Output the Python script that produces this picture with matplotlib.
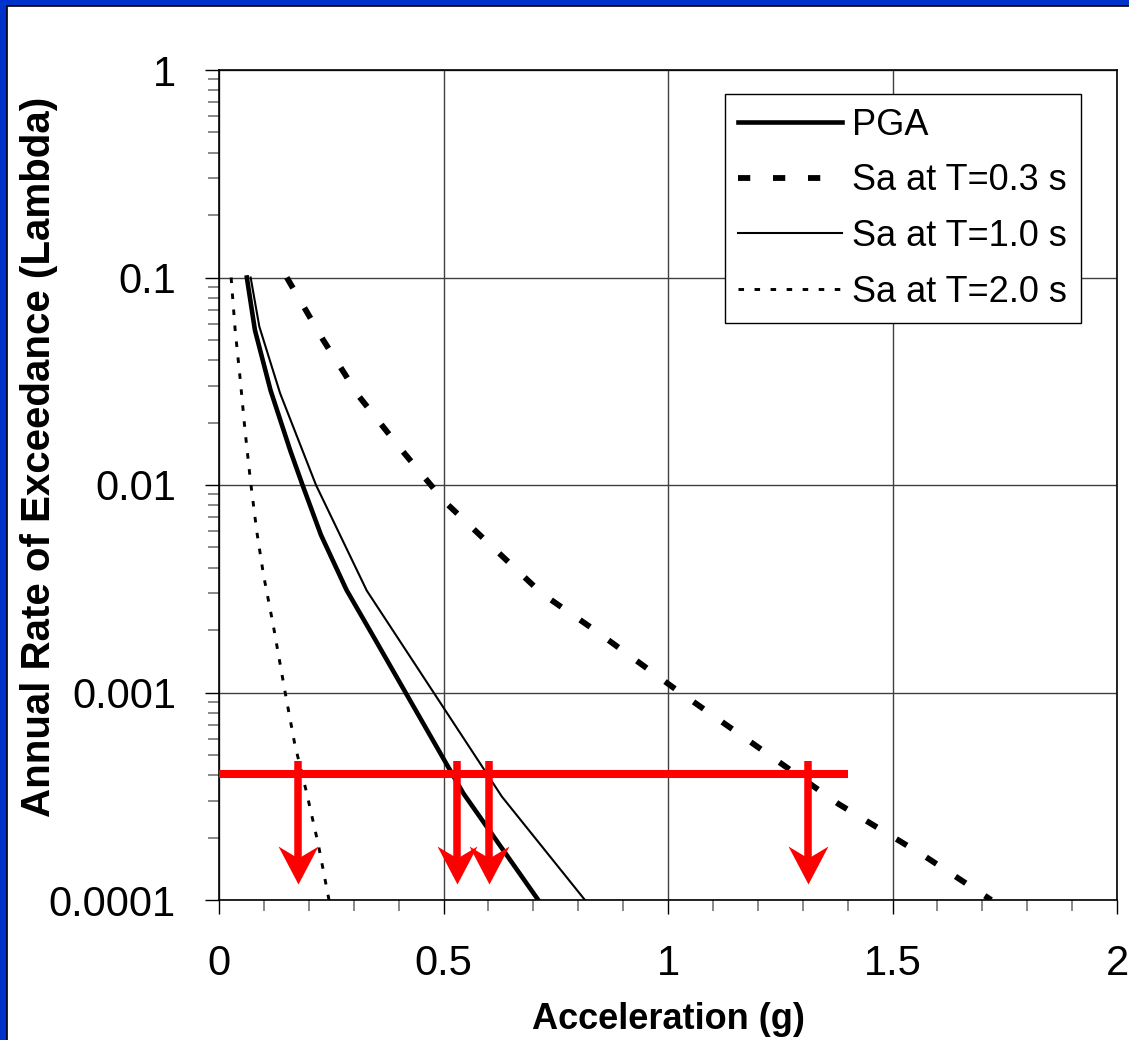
import numpy as np
import matplotlib.pyplot as plt
from matplotlib.patches import Rectangle
from matplotlib.path import Path
from matplotlib.ticker import MultipleLocator, LogLocator, NullFormatter, FuncFormatter

plt.rcParams['font.family'] = ['Liberation Sans', 'DejaVu Sans']

# hazard curves: acceleration (g) vs annual rate of exceedance
pga_acc = [0.062, 0.080, 0.115, 0.159, 0.186, 0.227, 0.284, 0.344, 0.544, 0.711]
pga_rate = [0.1, 0.0558, 0.0285, 0.0146, 0.010, 0.00575, 0.00312, 0.00186, 0.000327, 0.0001]

sa03_acc = [0.151, 0.232, 0.312, 0.405, 0.503, 0.606, 0.719, 0.838, 1.016, 1.199, 1.380, 1.571, 1.72]
sa03_rate = [0.1, 0.050, 0.0267, 0.0149, 0.0083, 0.0051, 0.0030, 0.00199, 0.00104, 0.000548, 0.00029, 0.000163, 0.0001]

sa10_acc = [0.0705, 0.0898, 0.136, 0.216, 0.329, 0.630, 0.815]
sa10_rate = [0.1, 0.058, 0.0277, 0.010, 0.0031, 0.000315, 0.0001]

sa20_acc = [0.027, 0.036, 0.047, 0.058, 0.070, 0.084, 0.099, 0.121, 0.147, 0.169, 0.195, 0.221, 0.245]
sa20_rate = [0.1, 0.0558, 0.0327, 0.0183, 0.0105, 0.0060, 0.0037, 0.0021, 0.00101, 0.00056, 0.00033, 0.000186, 0.0001]

design_rate = 4.04e-4
design_acc_max = 1.4
design_acc = [0.175, 0.530, 0.601, 1.311]

fig = plt.figure(figsize=(11.29, 10.40), dpi=100)
fig.patch.set_facecolor('#0033cc')
fig.add_artist(Rectangle((7 / 1129, -0.05), 1.1, 1.05 - 6 / 1040,
                         transform=fig.transFigure, facecolor='white',
                         edgecolor='black', lw=1.2, zorder=-1))

ax = fig.add_axes([219 / 1129, 140 / 1040, 898 / 1129, 830 / 1040])

ax.plot(pga_acc, pga_rate, color='black', lw=3.3, label='PGA')
ax.plot(sa03_acc, sa03_rate, color='black', lw=4.2, dashes=(2.1, 3.9),
        dash_capstyle='butt', label='Sa at T=0.3 s')
ax.plot(sa10_acc, sa10_rate, color='black', lw=1.5, label='Sa at T=1.0 s')
ax.plot(sa20_acc, sa20_rate, color='black', lw=2.1, dashes=(1.9, 3.6),
        dash_capstyle='butt', label='Sa at T=2.0 s')

# red design line with arrows dropping to the x axis
ax.plot([0, design_acc_max], [design_rate, design_rate], color='red', lw=5.8,
        solid_capstyle='butt', clip_on=False, zorder=5)
trans = ax.get_xaxis_transform()
head = Path([(0, 0), (20, 38), (0, 26), (-20, 38), (0, 0)],
            [Path.MOVETO, Path.LINETO, Path.LINETO, Path.LINETO, Path.CLOSEPOLY])
for a in design_acc:
    ax.plot([a, a], [0.1675, 0.045], transform=trans, color='red', lw=5.4,
            solid_capstyle='butt', zorder=5)
    ax.plot([a], [0.0193], transform=trans, marker=head, ms=54.7,
            color='red', mew=0, zorder=5)

ax.set_yscale('log')
ax.set_xlim(0, 2)
ax.set_ylim(1e-4, 1)

ax.xaxis.set_major_locator(MultipleLocator(0.5))
ax.xaxis.set_minor_locator(MultipleLocator(0.1))
ax.yaxis.set_major_locator(LogLocator(base=10, numticks=10))
ax.yaxis.set_minor_locator(LogLocator(base=10, subs=np.arange(2, 10), numticks=10))
ax.yaxis.set_minor_formatter(NullFormatter())
fmt = FuncFormatter(lambda v, _: f'{v:g}')
ax.xaxis.set_major_formatter(fmt)
ax.yaxis.set_major_formatter(fmt)

ax.tick_params(which='major', direction='out', length=10, width=1,
               labelsize=30, color='black')
ax.tick_params(axis='y', which='major', pad=21)
ax.tick_params(axis='x', which='major', pad=22)
ax.tick_params(which='minor', direction='out', length=8, width=1.3, color='#808080')
ax.grid(True, which='major', color='#404040', lw=1.0)
for sp in ax.spines.values():
    sp.set_color('black')
    sp.set_linewidth(1.2)

ax.set_xlabel('Acceleration (g)', fontsize=26, fontweight='bold')
ax.xaxis.set_label_coords(0.5, -0.144)
ax.xaxis.label.set_va('center')
ax.set_ylabel('Annual Rate of Exceedance (Lambda)', fontsize=29, fontweight='bold')
ax.yaxis.set_label_coords(-0.201, 0.534)
ax.yaxis.label.set_va('center')

leg = ax.legend(loc='upper right', bbox_to_anchor=(0.96, 0.971), borderaxespad=0,
                fontsize=26, frameon=True, fancybox=False, edgecolor='black',
                framealpha=1, handlelength=2.88, handletextpad=0.28,
                labelspacing=0.57, borderpad=0.38)
leg.get_frame().set_linewidth(1.0)

fig.savefig('out.png', dpi=100, facecolor=fig.get_facecolor())
